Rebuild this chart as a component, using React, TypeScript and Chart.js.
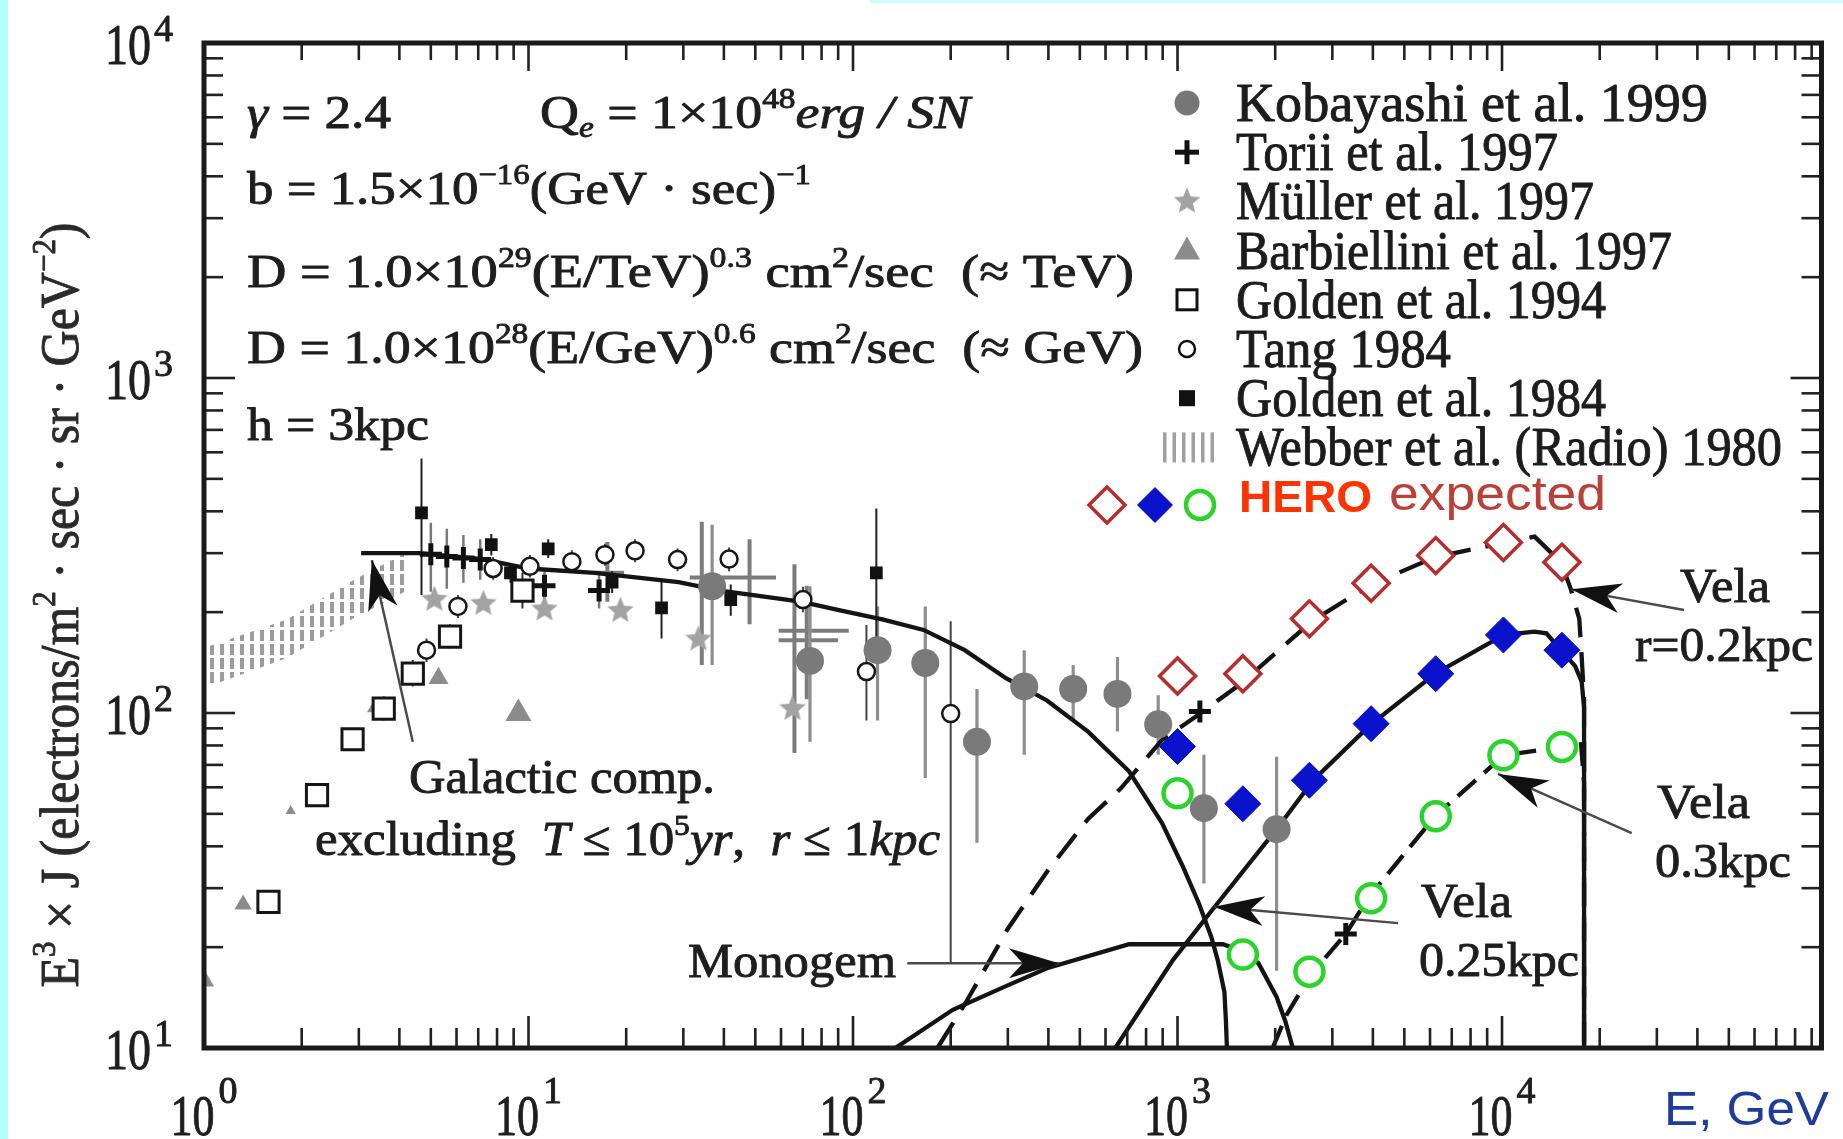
import React, { useEffect, useRef } from 'react';
import { Chart, registerables } from 'chart.js';

Chart.register(...registerables);

const W = 1843;
const H = 1139;

// ===== Axis ranges & tick labels =====
const X_MIN = 1;
const X_MAX = 96500;
const Y_MIN = 10;
const Y_MAX = 10000;
const xTickValues = [1, 10, 100, 1000, 10000];
const xTickExps = ['0', '1', '2', '3', '4'];
const yTickValues = [10, 100, 1000, 10000];
const yTickExps = ['1', '2', '3', '4'];

// ===== Measured data (E in GeV, J = E^3 x flux) =====
const kobayashiE = [36.8, 73.7, 119, 167, 241, 337, 477, 653, 872, 1206, 2020];
const kobayashiJ = [239, 143, 154, 141, 82, 120, 118, 114, 92.5, 52, 45];
const kobayashiLo = [139, 82, 95, 64, 41, 75, 95, 88, 75, 31, 17];
const kobayashiHi = [365, 239, 208, 208, 118, 154, 139, 147, 113, 75, 74];

const toriiE = [5.0, 5.6, 6.3, 7.1, 11.2, 16.5, 1172, 3300];
const toriiJ = [298, 293, 290, 287, 240, 232, 101, 21.9];
const toriiLo = [230, 235, 245, 250, 215, 205, null, null];
const toriiHi = [370, 355, 340, 330, 265, 262, null, null];

const toriiBinE = [17.5, 34.2, 48, 66, 72];
const toriiBinJ = [262, 254, 254, 176, 165];
const toriiBinXLo = [16, 31.4, 40, 59, 59];
const toriiBinXHi = [19.7, 40, 57.9, 97, 90];
const toriiBinLo = [215, 139, 184, 76, 110];
const toriiBinHi = [324, 372, 330, 278, 240];

const mullerE = [5.13, 7.26, 11.2, 19.2, 33.4, 65.1];
const mullerJ = [218, 212, 204, 202, 166, 103];

const barbielliniE = [1.01, 1.32, 1.85, 3.38, 5.28, 9.31];
const barbielliniJ = [15.8, 26.8, 51, 104, 127, 99.6];

const golden94E = [1.58, 2.23, 2.87, 3.58, 4.4, 5.73, 9.58];
const golden94J = [27.3, 56.9, 83.5, 103, 131, 169, 232];
const golden94Lo = [null, null, 78, 95, 120, 156, 205];
const golden94Hi = [null, null, 90, 112, 144, 184, 262];

const tangE = [4.85, 6.06, 7.78, 10.1, 13.6, 17.2, 21.3, 28.8, 41.5, 70.1, 110, 200];
const tangJ = [154, 208, 270, 274, 283, 297, 305, 287, 288, 218, 133, 99.6];
const tangLo = [142, 192, 250, 254, 262, 275, 282, 265, 265, 200, 95, 18];
const tangHi = [167, 225, 292, 296, 306, 320, 330, 310, 312, 238, 183, 188];

const golden84E = [4.68, 7.68, 8.8, 11.5, 18.1, 25.7, 42, 118];
const golden84J = [396, 318, 262, 309, 246, 206, 218, 262];
const golden84Lo = [225, 295, 245, 290, 228, 167, 195, 150];
const golden84Hi = [575, 342, 280, 330, 265, 250, 242, 408];

const webberE = [1.03, 1.8, 2.9, 4.3];
const webberLo = [120, 146, 192, 234];
const webberHi = [158, 190, 250, 305];

// HERO expected
const heroE = [1000, 1590, 2550, 3950, 6250, 10100, 15300];
const heroRedJ = [129, 131, 191, 244, 295, 323, 282];
const heroBlueJ = [79.4, 53.6, 63, 92.9, 131, 171, 154];
const heroGreenJ = [57.6, 19.0, 16.9, 28.0, 49.2, 74.8, 79.2];

// Model curves
const galacticE = [3.05, 4.6, 7.2, 10, 16, 29, 39, 69, 92, 124, 165, 221, 296, 396, 530, 709, 895, 1036, 1164, 1270, 1330, 1395, 1410, 1420];
const galacticJ = [300, 300, 288, 270, 262, 246, 232, 215, 202, 190, 177, 154, 127, 109, 88, 67, 47, 35, 27, 21.5, 18.3, 14.7, 12, 10];

const monogemE = [135, 203, 296, 396, 709, 1380, 1580, 1776, 2020, 2150, 2266];
const monogemJ = [10, 13.0, 15.3, 17.3, 20.4, 20.4, 19.5, 17.9, 14.2, 12, 10];

const vela02E = [182, 222, 300, 396, 530, 669, 895, 1180, 1545, 2600, 3920, 6220, 10100, 12600, 15200, 16300, 17300, 17600, 17900, 17900];
const vela02J = [10, 13.6, 22.7, 33.6, 48.3, 59.6, 83, 100, 121, 188, 241, 292, 322, 336, 282, 234, 191, 147, 110, 10];

const vela025E = [643, 968, 1270, 2020, 2620, 3920, 6220, 10140, 12600, 13700, 15200, 16800, 17600, 17900, 17900];
const vela025J = [10, 18.3, 25.6, 45, 63, 92, 131, 171, 175, 173, 154, 138, 124, 104, 10];

const vela03E = [1963, 2172, 2401, 2620, 3300, 3864, 6220, 10140, 15400, 17500, 17900, 17900];
const vela03J = [10, 12.6, 14.8, 16.9, 21.9, 28, 49.2, 74.8, 79.2, 82, 62, 10];

// Annotation arrows (tail -> head, data units)
const arrowTailE = [4.4, 147, 36400, 25100, 4786];
const arrowTailJ = [82, 17.9, 203, 43.8, 23.6];
const arrowHeadE = [3.29, 431, 16350, 9720, 1297];
const arrowHeadJ = [286, 17.9, 234, 65.8, 26.4];

const legendLabels = [
  'Kobayashi et al. 1999',
  'Torii et al. 1997',
  'Müller et al. 1997',
  'Barbiellini et al. 1997',
  'Golden et al. 1994',
  'Tang 1984',
  'Golden et al. 1984',
  'Webber et al. (Radio) 1980',
];
const legendTextWidths = [472, 322, 358, 436, 370, 215, 370, 546];

// ===== helpers =====
const pts = (xs: number[], ys: number[]) => xs.map((x, i) => ({ x, y: ys[i] }));
const errs = (lo: (number | null)[], hi: (number | null)[]) =>
  lo.map((l, i) => (l == null ? null : [l as number, hi[i] as number]));

const SERIF = "'Liberation Serif', 'Times New Roman', serif";
const SANS = "'Liberation Sans', Arial, sans-serif";

type Seg = { t: string; sup?: boolean; sub?: boolean; it?: boolean };

function segFont(s: Seg, size: number, family: string, weight: string) {
  const sz = s.sup || s.sub ? size * 0.62 : size;
  return `${s.it ? 'italic ' : ''}${weight ? weight + ' ' : ''}${sz}px ${family}`;
}

function drawRich(
  ctx: CanvasRenderingContext2D,
  segs: Seg[],
  x: number,
  y: number,
  size: number,
  opt: { family?: string; weight?: string; color?: string; width?: number; hs?: number; align?: string; stroke?: number } = {}
) {
  const fam = opt.family || SERIF;
  const weight = opt.weight || '';
  let raw = 0;
  for (const s of segs) {
    ctx.font = segFont(s, size, fam, weight);
    raw += ctx.measureText(s.t).width;
  }
  const hs = opt.width ? opt.width / raw : opt.hs || 1;
  const total = raw * hs;
  const x0 = opt.align === 'center' ? x - total / 2 : opt.align === 'right' ? x - total : x;
  const stroke = opt.stroke === undefined ? (fam === SERIF ? 0.9 : 0) : opt.stroke;
  ctx.save();
  ctx.translate(x0, y);
  ctx.scale(hs, 1);
  ctx.fillStyle = opt.color || '#1e1e1e';
  ctx.strokeStyle = opt.color || '#1e1e1e';
  ctx.lineWidth = stroke;
  ctx.lineJoin = 'round';
  ctx.textAlign = 'left';
  ctx.textBaseline = 'alphabetic';
  let cx = 0;
  for (const s of segs) {
    ctx.font = segFont(s, size, fam, weight);
    const dy = s.sup ? -size * 0.42 : s.sub ? size * 0.2 : 0;
    ctx.fillText(s.t, cx, dy);
    if (stroke > 0) ctx.strokeText(s.t, cx, dy);
    cx += ctx.measureText(s.t).width;
  }
  ctx.restore();
  return total;
}

function makeStar(R: number, color: string) {
  const c = document.createElement('canvas');
  const s = Math.ceil(R * 2 + 2);
  c.width = s;
  c.height = s;
  const g = c.getContext('2d')!;
  g.fillStyle = color;
  g.beginPath();
  for (let k = 0; k < 10; k++) {
    const r = k % 2 === 0 ? R : R * 0.45;
    const a = -Math.PI / 2 + (k * Math.PI) / 5;
    const px = s / 2 + r * Math.cos(a);
    const py = s / 2 + r * Math.sin(a);
    if (k === 0) g.moveTo(px, py);
    else g.lineTo(px, py);
  }
  g.closePath();
  g.fill();
  return c;
}

function line(ctx: CanvasRenderingContext2D, x1: number, y1: number, x2: number, y2: number) {
  ctx.beginPath();
  ctx.moveTo(x1, y1);
  ctx.lineTo(x2, y2);
  ctx.stroke();
}

function arrowHead(ctx: CanvasRenderingContext2D, tx: number, ty: number, fx: number, fy: number, len: number, half: number) {
  const a = Math.atan2(ty - fy, tx - fx);
  const ux = Math.cos(a), uy = Math.sin(a);
  const px = -uy, py = ux;
  const bx = tx - ux * len, by = ty - uy * len;
  const nx = tx - ux * len * 0.72, ny = ty - uy * len * 0.72;
  ctx.beginPath();
  ctx.moveTo(tx, ty);
  ctx.lineTo(bx + px * half, by + py * half);
  ctx.lineTo(nx, ny);
  ctx.lineTo(bx - px * half, by - py * half);
  ctx.closePath();
  ctx.fill();
}

const bgPlugin = {
  id: 'bg',
  beforeDraw(chart: any) {
    const ctx = chart.ctx as CanvasRenderingContext2D;
    ctx.save();
    ctx.fillStyle = '#ffffff';
    ctx.fillRect(0, 0, W, H);
    ctx.fillStyle = '#b6fdfd';
    ctx.fillRect(0, 0, 8, H);
    ctx.fillStyle = '#cffcfc';
    ctx.fillRect(870, 0, W - 870, 3);
    ctx.restore();
  },
};

const errorBarPlugin = {
  id: 'errbars',
  beforeDatasetsDraw(chart: any) {
    const ctx = chart.ctx as CanvasRenderingContext2D;
    const xs = chart.scales.x, ys = chart.scales.y;
    const a = chart.chartArea;
    ctx.save();
    ctx.beginPath();
    ctx.rect(a.left, a.top, a.right - a.left, a.bottom - a.top);
    ctx.clip();
    ctx.lineCap = 'butt';
    chart.data.datasets.forEach((ds: any) => {
      if (!ds.errY && !ds.errX) return;
      ctx.strokeStyle = ds.errColor || '#333';
      ctx.lineWidth = ds.errWidth || 2;
      ds.data.forEach((p: any, j: number) => {
        const px = xs.getPixelForValue(p.x);
        const py = ys.getPixelForValue(p.y);
        const ey = ds.errY ? ds.errY[j] : null;
        if (ey) line(ctx, px, ys.getPixelForValue(ey[0]), px, ys.getPixelForValue(ey[1]));
        const ex = ds.errX ? ds.errX[j] : null;
        if (ex) line(ctx, xs.getPixelForValue(ex[0]), py, xs.getPixelForValue(ex[1]), py);
      });
    });
    ctx.restore();
  },
};

function makeDecorPlugin(star: HTMLCanvasElement) {
  return {
    id: 'decor',
    afterDatasetsDraw(chart: any) {
      const ctx = chart.ctx as CanvasRenderingContext2D;
      const xs = chart.scales.x, ys = chart.scales.y;
      const { left, right, top, bottom } = chart.chartArea;
      ctx.save();
      // arrows
      for (let i = 0; i < arrowTailE.length; i++) {
        const fx = xs.getPixelForValue(arrowTailE[i]);
        const fy = ys.getPixelForValue(arrowTailJ[i]);
        const tx = xs.getPixelForValue(arrowHeadE[i]);
        const ty = ys.getPixelForValue(arrowHeadJ[i]);
        ctx.strokeStyle = '#4a4a4a';
        ctx.lineWidth = 2.4;
        line(ctx, fx, fy, tx, ty);
        ctx.fillStyle = '#111';
        arrowHead(ctx, tx, ty, fx, fy, 50, 15);
      }
      // ticks
      ctx.strokeStyle = '#222';
      ctx.lineWidth = 2.6;
      const dec = (lo: number, hi: number) => {
        const out: { v: number; major: boolean }[] = [];
        for (let d = Math.floor(Math.log10(lo)); d <= Math.ceil(Math.log10(hi)); d++) {
          for (let m = 1; m <= 9; m++) {
            const v = m * Math.pow(10, d);
            if (v >= lo * 0.999 && v <= hi * 1.001) out.push({ v, major: m === 1 });
          }
        }
        return out;
      };
      for (const t of dec(X_MIN, X_MAX)) {
        const px = xs.getPixelForValue(t.v);
        line(ctx, px, bottom, px, bottom - (t.major ? 32 : 20));
        line(ctx, px, top, px, top + (t.major ? 28 : 17));
      }
      for (const t of dec(Y_MIN, Y_MAX)) {
        const py = ys.getPixelForValue(t.v);
        line(ctx, left, py, left + (t.major ? 31 : 19), py);
        line(ctx, right, py, right - (t.major ? 31 : 20), py);
      }
      ctx.lineWidth = 5;
      ctx.strokeStyle = '#1a1a1a';
      ctx.strokeRect(left, top, right - left, bottom - top);
      ctx.restore();
    },
    afterDraw(chart: any) {
      const ctx = chart.ctx as CanvasRenderingContext2D;
      const xs = chart.scales.x, ys = chart.scales.y;
      ctx.save();
      // tick labels
      xTickValues.forEach((v, i) => {
        const px = xs.getPixelForValue(v);
        ctx.font = `38px ${SERIF}`;
        const sw = ctx.measureText(xTickExps[i]).width;
        const total = 44 + 4 + sw;
        const x0 = px - total / 2;
        drawRich(ctx, [{ t: '10' }], x0, 1135, 58, { width: 44 });
        drawRich(ctx, [{ t: xTickExps[i] }], x0 + 48, 1103, 38);
      });
      yTickValues.forEach((v, i) => {
        const py = ys.getPixelForValue(v);
        drawRich(ctx, [{ t: '10' }], 151, py + 21, 58, { width: 46, align: 'right' });
        drawRich(ctx, [{ t: yTickExps[i] }], 154, py - 2, 38);
      });
      // axis titles
      ctx.save();
      ctx.translate(78, 605);
      ctx.rotate(-Math.PI / 2);
      drawRich(
        ctx,
        [
          { t: 'E' },
          { t: '3', sup: true },
          { t: ' × J (electrons/m' },
          { t: '2', sup: true },
          { t: ' · sec · sr · GeV' },
          { t: '−2', sup: true },
          { t: ')' },
        ],
        0,
        0,
        55,
        { width: 765, align: 'center', color: '#2a2a2a' }
      );
      ctx.restore();
      drawRich(ctx, [{ t: 'E, GeV' }], 1664, 1125, 49, { family: SANS, width: 165, color: '#1d3c9c' });

      // parameter text block
      const P = 47;
      drawRich(ctx, [{ t: 'γ', it: true }, { t: ' = 2.4' }], 247, 128, P, { width: 144 });
      drawRich(
        ctx,
        [{ t: 'Q' }, { t: 'e', sub: true, it: true }, { t: ' = 1×10' }, { t: '48', sup: true }, { t: 'erg / SN', it: true }],
        540, 128, P, { width: 430 }
      );
      drawRich(ctx, [{ t: 'b = 1.5×10' }, { t: '−16', sup: true }, { t: '(GeV · sec)' }, { t: '−1', sup: true }], 247, 204, P, { width: 564 });
      drawRich(
        ctx,
        [{ t: 'D = 1.0×10' }, { t: '29', sup: true }, { t: '(E/TeV)' }, { t: '0.3', sup: true }, { t: ' cm' }, { t: '2', sup: true }, { t: '/sec  (≈ TeV)' }],
        247, 287, P, { width: 887 }
      );
      drawRich(
        ctx,
        [{ t: 'D = 1.0×10' }, { t: '28', sup: true }, { t: '(E/GeV)' }, { t: '0.6', sup: true }, { t: ' cm' }, { t: '2', sup: true }, { t: '/sec  (≈ GeV)' }],
        247, 363, P, { width: 896 }
      );
      drawRich(ctx, [{ t: 'h = 3kpc' }], 247, 440, P, { width: 182 });

      // in-plot annotations
      const A = 48;
      drawRich(ctx, [{ t: 'Galactic comp.' }], 409, 793, A, { width: 306 });
      drawRich(
        ctx,
        [
          { t: 'excluding  ' }, { t: 'T', it: true }, { t: ' ≤ 10' }, { t: '5', sup: true }, { t: 'yr', it: true },
          { t: ',  ' }, { t: 'r', it: true }, { t: ' ≤ 1' }, { t: 'kpc', it: true },
        ],
        315, 855, A, { width: 625 }
      );
      drawRich(ctx, [{ t: 'Monogem' }], 688, 977, A, { width: 208 });
      drawRich(ctx, [{ t: 'Vela' }], 1680, 602, A, { width: 90 });
      drawRich(ctx, [{ t: 'r=0.2kpc' }], 1635, 661, A, { width: 178 });
      drawRich(ctx, [{ t: 'Vela' }], 1657, 818, A, { width: 93 });
      drawRich(ctx, [{ t: '0.3kpc' }], 1655, 877, A, { width: 136 });
      drawRich(ctx, [{ t: 'Vela' }], 1421, 917, A, { width: 91 });
      drawRich(ctx, [{ t: '0.25kpc' }], 1419, 976, A, { width: 160 });

      // legend
      const LX = 1187;
      const TX = 1236;
      legendLabels.forEach((lab, i) => {
        const base = 121 + i * 49.2;
        drawRich(ctx, [{ t: lab }], TX, base, 54, { width: legendTextWidths[i], color: '#1c1c1c' });
        const my = base - 18;
        ctx.save();
        if (i === 0) {
          ctx.fillStyle = '#777';
          ctx.beginPath();
          ctx.arc(LX, my, 12.5, 0, Math.PI * 2);
          ctx.fill();
        } else if (i === 1) {
          ctx.strokeStyle = '#111';
          ctx.lineWidth = 5;
          line(ctx, LX - 12, my, LX + 12, my);
          line(ctx, LX, my - 12, LX, my + 12);
        } else if (i === 2) {
          ctx.drawImage(star, LX - star.width / 2, my - star.height / 2);
        } else if (i === 3) {
          ctx.fillStyle = '#8c8c8c';
          ctx.beginPath();
          ctx.moveTo(LX, my - 14);
          ctx.lineTo(LX + 13, my + 9);
          ctx.lineTo(LX - 13, my + 9);
          ctx.closePath();
          ctx.fill();
        } else if (i === 4) {
          ctx.strokeStyle = '#111';
          ctx.lineWidth = 3;
          ctx.strokeRect(LX - 10, my - 10, 20, 20);
        } else if (i === 5) {
          ctx.strokeStyle = '#111';
          ctx.lineWidth = 2.5;
          ctx.beginPath();
          ctx.arc(LX, my, 8, 0, Math.PI * 2);
          ctx.stroke();
        } else if (i === 6) {
          ctx.fillStyle = '#111';
          ctx.fillRect(LX - 8, my - 8, 16, 16);
        } else {
          ctx.fillStyle = '#a0a0a0';
          for (let k = 0; k < 6; k++) ctx.fillRect(1163 + k * 9.5, my - 15, 3.5, 30);
        }
        ctx.restore();
      });

      // HERO legend row
      const hy = 505;
      ctx.save();
      ctx.lineWidth = 3.5;
      ctx.strokeStyle = '#b52d2d';
      ctx.fillStyle = '#fff';
      ctx.beginPath();
      ctx.moveTo(1107 - 18, hy); ctx.lineTo(1107, hy - 18); ctx.lineTo(1107 + 18, hy); ctx.lineTo(1107, hy + 18); ctx.closePath();
      ctx.fill(); ctx.stroke();
      ctx.fillStyle = '#0a12cc';
      ctx.beginPath();
      ctx.moveTo(1155 - 18, hy); ctx.lineTo(1155, hy - 18); ctx.lineTo(1155 + 18, hy); ctx.lineTo(1155, hy + 18); ctx.closePath();
      ctx.fill();
      ctx.strokeStyle = '#2ad42a';
      ctx.lineWidth = 4.5;
      ctx.beginPath();
      ctx.arc(1200, hy, 14, 0, Math.PI * 2);
      ctx.stroke();
      ctx.restore();
      drawRich(ctx, [{ t: 'HERO' }], 1239, 512, 44, { family: SANS, weight: 'bold', width: 133, color: '#ff3300' });
      drawRich(ctx, [{ t: 'expected' }], 1389, 510, 48, { family: SANS, width: 217, color: '#bb4038' });
      ctx.restore();
    },
  };
}

export default function App() {
  const ref = useRef<HTMLCanvasElement>(null);

  useEffect(() => {
    const canvas = ref.current!;
    const hatch = document.createElement('canvas');
    hatch.width = 10;
    hatch.height = 14;
    const hc = hatch.getContext('2d')!;
    hc.fillStyle = '#9c9c9c';
    hc.fillRect(0, 0, 4, 11);
    const pattern = canvas.getContext('2d')!.createPattern(hatch, 'repeat')!;
    const star = makeStar(14, '#a3a3a3');

    const curve = (label: string, xs: number[], ys: number[], dash: number[]) => ({
      label,
      data: pts(xs, ys),
      borderColor: '#141414',
      borderWidth: 4.3,
      borderDash: dash,
      pointRadius: 0,
      fill: false,
      showLine: true,
      tension: 0,
      order: 10,
    });
    const marks = (label: string, xs: number[], ys: number[], extra: any) => ({
      label,
      data: pts(xs, ys),
      showLine: false,
      fill: false,
      ...extra,
    });

    const chart = new Chart(canvas, {
      type: 'line',
      data: {
        datasets: [
          {
            label: 'Webber lower',
            data: pts(webberE, webberLo),
            borderWidth: 0,
            borderColor: 'rgba(0,0,0,0)',
            pointRadius: 0,
            fill: false,
            order: 30,
          },
          {
            label: 'Webber et al. (Radio) 1980',
            data: pts(webberE, webberHi),
            borderWidth: 0,
            borderColor: 'rgba(0,0,0,0)',
            backgroundColor: pattern,
            pointRadius: 0,
            fill: '-1',
            order: 29,
          },
          curve('Galactic comp.', galacticE, galacticJ, []),
          curve('Monogem', monogemE, monogemJ, []),
          curve('Vela r=0.2kpc', vela02E, vela02J, [30, 15]),
          curve('Vela 0.25kpc', vela025E, vela025J, []),
          curve('Vela 0.3kpc', vela03E, vela03J, [24, 11]),
          marks('Torii bins', toriiBinE, toriiBinJ, {
            pointRadius: 0,
            errY: errs(toriiBinLo, toriiBinHi),
            errX: errs(toriiBinXLo, toriiBinXHi),
            errColor: '#7c7c7c',
            errWidth: 4,
            order: 9,
          }),
          marks('Kobayashi et al. 1999', kobayashiE, kobayashiJ, {
            pointStyle: 'circle',
            pointRadius: 14,
            backgroundColor: '#7a7a7a',
            borderColor: '#7a7a7a',
            borderWidth: 0,
            errY: errs(kobayashiLo, kobayashiHi),
            errColor: '#8e8e8e',
            errWidth: 3.2,
            order: 8,
          }),
          marks('Müller et al. 1997', mullerE, mullerJ, {
            pointStyle: star,
            pointRadius: 14,
            order: 7,
          }),
          marks('Barbiellini et al. 1997', barbielliniE, barbielliniJ, {
            pointStyle: 'triangle',
            pointRadius: [10, 10, 6, 10, 11.5, 15],
            backgroundColor: '#8c8c8c',
            borderColor: '#8c8c8c',
            borderWidth: 0,
            order: 7,
          }),
          marks('Golden et al. 1994', golden94E, golden94J, {
            pointStyle: 'rect',
            pointRadius: 15,
            backgroundColor: '#ffffff',
            borderColor: '#161616',
            borderWidth: 3,
            errY: errs(golden94Lo, golden94Hi),
            errColor: '#333',
            errWidth: 2,
            order: 6,
          }),
          marks('Tang 1984', tangE, tangJ, {
            pointStyle: 'circle',
            pointRadius: 8.5,
            backgroundColor: '#ffffff',
            borderColor: '#161616',
            borderWidth: 2.5,
            errY: errs(tangLo, tangHi),
            errColor: '#444',
            errWidth: 2,
            order: 5,
          }),
          marks('Golden et al. 1984', golden84E, golden84J, {
            pointStyle: 'rect',
            pointRadius: 9,
            backgroundColor: '#111',
            borderColor: '#111',
            borderWidth: 0,
            errY: errs(golden84Lo, golden84Hi),
            errColor: '#222',
            errWidth: 2,
            order: 4,
          }),
          marks('Torii et al. 1997', toriiE, toriiJ, {
            pointStyle: 'cross',
            pointRadius: 11,
            borderColor: '#111',
            borderWidth: 5,
            errY: errs(toriiLo, toriiHi),
            errColor: '#7a7a7a',
            errWidth: 2.5,
            order: 3,
          }),
          marks('HERO Vela 0.2kpc', heroE, heroRedJ, {
            pointStyle: 'rectRot',
            pointRadius: 18,
            backgroundColor: '#ffffff',
            borderColor: '#b52d2d',
            borderWidth: 3.5,
            order: 1,
          }),
          marks('HERO Vela 0.25kpc', heroE, heroBlueJ, {
            pointStyle: 'rectRot',
            pointRadius: 18,
            backgroundColor: '#0a12cc',
            borderColor: '#0a12cc',
            borderWidth: 1,
            order: 1,
          }),
          marks('HERO Vela 0.3kpc', heroE, heroGreenJ, {
            pointStyle: 'circle',
            pointRadius: 14,
            backgroundColor: '#ffffff',
            borderColor: '#2ad42a',
            borderWidth: 4.5,
            order: 1,
          }),
        ] as any,
      },
      options: {
        responsive: false,
        animation: false,
        devicePixelRatio: 1,
        events: [],
        layout: { padding: { left: 204, top: 43, right: 4, bottom: 91 } },
        plugins: { legend: { display: false }, tooltip: { enabled: false } },
        scales: {
          x: { type: 'logarithmic', min: X_MIN, max: X_MAX, display: false },
          y: { type: 'logarithmic', min: Y_MIN, max: Y_MAX, display: false },
        },
      } as any,
      plugins: [bgPlugin, errorBarPlugin, makeDecorPlugin(star)],
    });
    return () => chart.destroy();
  }, []);

  return (
    <div style={{ position: 'absolute', left: 0, top: 0, width: W, height: H, background: '#fff' }}>
      <canvas ref={ref} width={W} height={H} style={{ display: 'block', width: W, height: H }} />
    </div>
  );
}
